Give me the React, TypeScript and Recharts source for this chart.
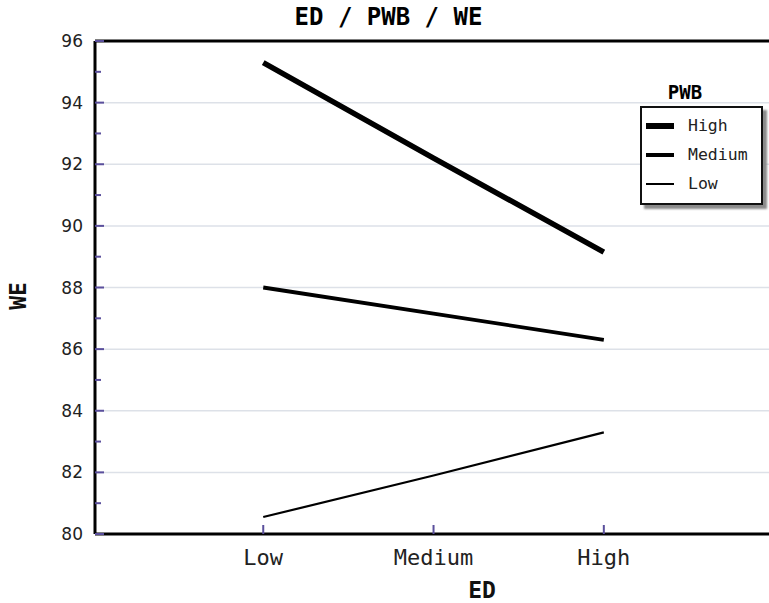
import React from "react";
import { LineChart, Line, XAxis, YAxis, ReferenceLine } from "recharts";

const categories = ["Low", "Medium", "High"];
const highPWB = [95.3, 92.2, 89.15];
const mediumPWB = [88.0, 87.15, 86.3];
const lowPWB = [80.55, 81.9, 83.3];
const yTicks = [80, 81, 82, 83, 84, 85, 86, 87, 88, 89, 90, 91, 92, 93, 94, 95, 96];
const gridValues = [82, 84, 86, 88, 90, 92, 94];
const xTicks = [1, 2, 3];

const series = [
  { key: "high", name: "High", width: 5.5, legend: 6 },
  { key: "medium", name: "Medium", width: 3.8, legend: 4 },
  { key: "low", name: "Low", width: 2.2, legend: 2 },
];

const data = categories.map((c, i) => ({
  x: i + 1,
  name: c,
  high: highPWB[i],
  medium: mediumPWB[i],
  low: lowPWB[i],
}));

const MONO = "'DejaVu Sans Mono', monospace";
const TICK_BLUE = "#5a4f9c";

// y ticks: small marks inside the plot, numbers only on the even values
const YTick = (props: any) => {
  const { x, y, payload } = props;
  const major = payload.value % 2 === 0;
  return (
    <g>
      <line x1={x} x2={x + (major ? 9 : 6)} y1={y} y2={y} stroke={TICK_BLUE} strokeWidth={2} />
      {major && (
        <text x={x - 12} y={y} dy="0.36em" textAnchor="end" fontFamily="'DejaVu Sans', sans-serif" fontSize={17} fill="#222">
          {payload.value}
        </text>
      )}
    </g>
  );
};

const XTick = (props: any) => {
  const { x, y, payload } = props;
  return (
    <g>
      <line x1={x} x2={x} y1={y} y2={y - 9} stroke={TICK_BLUE} strokeWidth={2} />
      <text x={x} y={y + 23} dy="0.36em" textAnchor="middle" fontFamily={MONO} fontSize={22} fill="#222">
        {categories[payload.value - 1]}
      </text>
    </g>
  );
};

const XLabel = () => (
  <text x={482} y={590} dy="0.36em" textAnchor="middle" fontFamily={MONO} fontWeight="bold" fontSize={23} fill="#111">
    ED
  </text>
);

const YLabel = () => (
  <text
    x={18}
    y={296}
    dy="0.36em"
    textAnchor="middle"
    transform="rotate(-90 18 296)"
    fontFamily={MONO}
    fontWeight="bold"
    fontSize={23}
    fill="#111"
  >
    WE
  </text>
);

const LegendBox = () => (
  <div style={{ position: "absolute", left: 640, top: 78, width: 123, fontFamily: MONO }}>
    <div style={{ textAlign: "center", fontWeight: "bold", fontSize: 19, height: 28, lineHeight: "28px", marginLeft: -33 }}>
      PWB
    </div>
    <div
      style={{
        border: "2px solid #111",
        background: "#fff",
        boxShadow: "4px 4px 2px #8a8a8a",
        padding: "3px 0 5px 0",
      }}
    >
      {series.map((s) => (
        <div key={s.key} style={{ display: "flex", alignItems: "center", height: 29 }}>
          <div style={{ width: 28, height: s.legend, background: "#000", marginLeft: 4, marginRight: 14 }} />
          <span style={{ fontSize: 16.5, color: "#222" }}>{s.name}</span>
        </div>
      ))}
    </div>
  </div>
);

export default function App() {
  return (
    <div style={{ position: "absolute", left: 0, top: 0, width: 769, height: 603, background: "#fff" }}>
      <div
        style={{
          position: "absolute",
          left: 4,
          width: 769,
          top: 3,
          textAlign: "center",
          fontFamily: MONO,
          fontWeight: "bold",
          fontSize: 24,
        }}
      >
        ED / PWB / WE
      </div>
      <LineChart width={769} height={603} data={data} margin={{ top: 41, right: 0, bottom: 0, left: 0 }}>
        {gridValues.map((v) => (
          <ReferenceLine key={v} y={v} stroke="#dde1e8" strokeWidth={1.5} />
        ))}
        <XAxis
          type="number"
          dataKey="x"
          domain={[0.012, 3.97]}
          allowDataOverflow
          ticks={xTicks}
          tick={<XTick />}
          tickLine={false}
          tickSize={0}
          tickMargin={0}
          height={69}
          axisLine={{ stroke: "#000", strokeWidth: 3 }}
          label={{ content: () => <XLabel /> }}
        />
        <YAxis
          type="number"
          domain={[80, 96]}
          ticks={yTicks}
          interval={0}
          tick={<YTick />}
          tickLine={false}
          tickSize={0}
          tickMargin={0}
          width={95}
          axisLine={{ stroke: "#000", strokeWidth: 3 }}
          label={{ content: () => <YLabel /> }}
        />
        <ReferenceLine y={96} stroke="#000" strokeWidth={3} />
        {series.map((s) => (
          <Line
            key={s.key}
            dataKey={s.key}
            name={s.name}
            type="linear"
            stroke="#000"
            strokeWidth={s.width}
            dot={false}
            activeDot={false}
            isAnimationActive={false}
          />
        ))}
      </LineChart>
      <LegendBox />
    </div>
  );
}
